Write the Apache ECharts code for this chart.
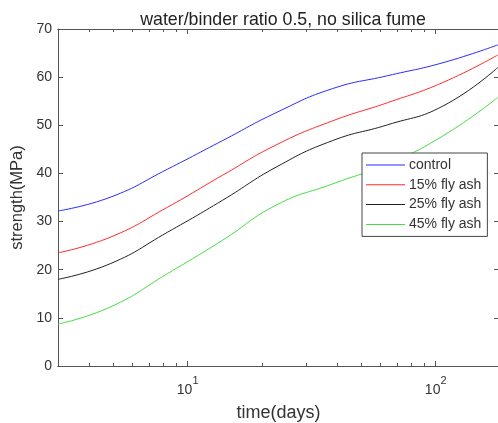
<!DOCTYPE html>
<html>
<head>
<meta charset="UTF-8">
<script src="https://cdn.jsdelivr.net/npm/echarts@6/dist/echarts.min.js"></script>
<style>
  html, body { margin: 0; padding: 0; background: #fff; }
  #chart { width: 498px; height: 423px; }
</style>
</head>
<body>
<div id="chart"></div>
<script>
// curing time (days), read at evenly spaced positions along the log axis
var days = [3, 4.9, 8.3, 13.8, 22.9, 38.3, 64, 107, 178];
var control = [32.2, 35.1, 40.9, 46.8, 52.7, 57.6, 60.3, 63.0, 66.7];
var flyAsh15 = [23.5, 26.8, 33.0, 39.6, 46.0, 50.9, 54.7, 58.9, 64.6];
var flyAsh25 = [18.0, 21.3, 27.8, 34.4, 41.4, 46.8, 50.1, 54.0, 62.0];
var flyAsh45 = [8.7, 12.3, 19.2, 26.1, 33.5, 37.8, 42.0, 47.8, 55.8];

var seriesNames = ['control', '15% fly ash', '25% fly ash', '45% fly ash'];
var seriesColors = ['#2a2aff', '#ff2a2a', '#222222', '#44dd44'];

var majorTicks = [10, 100];
var minorTicks = [4, 5, 6, 7, 8, 9, 20, 30, 40, 50, 60, 70, 80, 90];

var axisGray = '#555';
var textGray = '#333';
var font = 'Liberation Sans, Arial, sans-serif';

function pairs(ys) {
  return days.map(function (d, i) { return [d, ys[i]]; });
}

function logAxis(pos, ticks, len, withLabel) {
  var ax = {
    type: 'log',
    logBase: 10,
    position: pos,
    min: 3,
    max: 180,
    axisLine: { show: true, lineStyle: { color: axisGray, width: 1 } },
    axisTick: { show: true, inside: true, length: len, customValues: ticks, lineStyle: { color: axisGray } },
    axisLabel: { show: false },
    splitLine: { show: false },
    minorTick: { show: false }
  };
  if (withLabel) {
    ax.axisLabel = {
      show: true,
      customValues: majorTicks,
      margin: 9,
      formatter: function (v) {
        var n = Math.round(Math.log(v) / Math.LN10);
        return '{b|10}{s|' + n + '}';
      },
      rich: {
        b: { fontSize: 14, fontFamily: font, color: textGray, lineHeight: 22, verticalAlign: 'bottom' },
        s: { fontSize: 11, fontFamily: font, color: textGray, lineHeight: 22, verticalAlign: 'top' }
      }
    };
    ax.name = 'time(days)';
    ax.nameLocation = 'middle';
    ax.nameGap = 38;
    ax.nameTextStyle = { fontSize: 18, fontFamily: font, color: textGray };
  }
  return ax;
}

var chart = echarts.init(document.getElementById('chart'));
var option = {
  animation: false,
  backgroundColor: '#fff',
  title: {
    text: 'water/binder ratio 0.5, no silica fume',
    left: 278,
    top: 6,
    textAlign: 'center',
    textStyle: { fontSize: 17.8, fontWeight: 'normal', fontFamily: font, color: '#222' }
  },
  grid: { left: 58, top: 29, right: -1, bottom: 57, containLabel: false, outerBoundsMode: 'none' },
  legend: {
    orient: 'vertical',
    left: 362,
    top: 153,
    padding: [5, 6, 5, 4],
    itemWidth: 39,
    itemHeight: 1,
    itemGap: 5.8,
    icon: 'rect',
    borderColor: '#444',
    borderWidth: 1,
    backgroundColor: '#fff',
    textStyle: { fontSize: 14, lineHeight: 14, fontFamily: font, color: textGray, padding: [0, 0, 0, -1] },
    data: seriesNames
  },
  xAxis: [
    logAxis('bottom', majorTicks, 5, true),
    logAxis('bottom', minorTicks, 3, false),
    logAxis('top', majorTicks, 5, false),
    logAxis('top', minorTicks, 3, false)
  ],
  yAxis: [
    {
      type: 'value',
      position: 'left',
      min: 0,
      max: 70,
      interval: 10,
      axisLine: { show: true, lineStyle: { color: axisGray } },
      axisTick: { show: true, inside: true, length: 5, lineStyle: { color: axisGray } },
      axisLabel: { fontSize: 14, fontFamily: font, color: textGray, margin: 6 },
      splitLine: { show: false },
      name: 'strength(MPa)',
      nameLocation: 'middle',
      nameGap: 28,
      nameTextStyle: { fontSize: 16.5, fontFamily: font, color: textGray }
    },
    {
      type: 'value',
      position: 'right',
      min: 0,
      max: 70,
      interval: 10,
      axisLine: { show: true, lineStyle: { color: axisGray } },
      axisTick: { show: true, inside: true, length: 5, lineStyle: { color: axisGray } },
      axisLabel: { show: false },
      splitLine: { show: false }
    }
  ],
  series: [control, flyAsh15, flyAsh25, flyAsh45].map(function (ys, i) {
    return {
      name: seriesNames[i],
      type: 'line',
      xAxisIndex: 0,
      yAxisIndex: 0,
      data: pairs(ys),
      smooth: true,
      symbol: 'none',
      lineStyle: { color: seriesColors[i], width: 1 },
      itemStyle: { color: seriesColors[i] }
    };
  })
};
chart.setOption(option);
</script>
</body>
</html>
